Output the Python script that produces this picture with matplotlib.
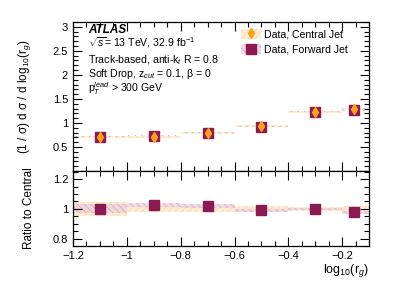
import matplotlib
matplotlib.use("Agg")
import matplotlib.pyplot as plt
from matplotlib.patches import Patch
from matplotlib.lines import Line2D
from matplotlib.ticker import MultipleLocator

plt.rcParams['font.family'] = ['Liberation Sans', 'DejaVu Sans']
plt.rcParams['mathtext.fontset'] = 'custom'
plt.rcParams['mathtext.rm'] = 'Liberation Sans'
plt.rcParams['mathtext.it'] = 'Liberation Sans:italic'
plt.rcParams['mathtext.bf'] = 'Liberation Sans:bold'
plt.rcParams['hatch.linewidth'] = 0.5

# bins in log10(r_g)
bin_edges = [-1.2, -1.0, -0.8, -0.6, -0.4, -0.2, -0.1]
bin_centers = [-1.1, -0.9, -0.7, -0.5, -0.3, -0.155]

# (1/sigma) dsigma/dlog10(rg)
central = [0.71, 0.715, 0.785, 0.935, 1.23, 1.30]
forward = [0.71, 0.733, 0.80, 0.925, 1.23, 1.27]
# relative uncertainties
central_unc = [0.045, 0.022, 0.02, 0.016, 0.014, 0.018]
forward_unc = [0.03, 0.012, 0.012, 0.01, 0.008, 0.012]

c_orange = '#FFA21A'
c_band_c = '#FFECD2'
c_hatch_c = '#FCD9A8'
c_purple = '#8B1A52'
c_band_f = '#EBD0DE'
c_hatch_f = '#CC98B4'

fig = plt.figure(figsize=(3.99, 2.86), dpi=100)
ax = fig.add_axes([0.183, 0.402, 0.742, 0.521])
axr = fig.add_axes([0.183, 0.140, 0.742, 0.262], sharex=ax)

ratio = [f / c for f, c in zip(forward, central)]

for i in range(len(central)):
    lo, hi = bin_edges[i], bin_edges[i + 1]
    w = hi - lo
    # top panel bands
    ax.add_patch(plt.Rectangle((lo, central[i] - 0.018), w, 0.036, facecolor=c_band_c,
                               edgecolor=c_hatch_c, hatch='/////', linewidth=0))
    ax.add_patch(plt.Rectangle((lo, forward[i] - 0.012), w, 0.024, facecolor='none',
                               edgecolor=c_hatch_f, hatch='\\\\\\\\\\', linewidth=0))
    # ratio panel bands
    axr.add_patch(plt.Rectangle((lo, 1 - central_unc[i]), w, 2 * central_unc[i],
                                facecolor=c_band_c, edgecolor=c_hatch_c, hatch='/////',
                                linewidth=0))
    axr.add_patch(plt.Rectangle((lo, ratio[i] - forward_unc[i]), w, 2 * forward_unc[i],
                                facecolor=c_band_f, alpha=0.75, edgecolor=c_hatch_f,
                                hatch='\\\\\\\\\\', linewidth=0))

ax.plot(bin_centers, forward, 's', color=c_purple, markersize=6.5, zorder=5)
ax.errorbar(bin_centers, central, yerr=[c * 0.04 for c in central], fmt='d',
            color=c_orange, markersize=5, elinewidth=1.2, capsize=0, zorder=6)
axr.plot(bin_centers, ratio, 's', color=c_purple, markersize=6.5, zorder=5)

ax.set_xlim(-1.2, -0.1)
ax.set_ylim(0, 3.1)
axr.set_ylim(0.75, 1.255)

for a in (ax, axr):
    a.tick_params(which='both', direction='in', top=True, right=True, labelsize=8,
                  width=0.8, colors='black')
    a.tick_params(which='major', length=6.5)
    a.tick_params(which='minor', length=3.3)
    a.xaxis.set_major_locator(MultipleLocator(0.2))
    a.xaxis.set_minor_locator(MultipleLocator(0.05))
    for s in a.spines.values():
        s.set_linewidth(0.9)

ax.yaxis.set_major_locator(MultipleLocator(0.5))
ax.yaxis.set_minor_locator(MultipleLocator(0.1))
axr.yaxis.set_major_locator(MultipleLocator(0.2))
axr.yaxis.set_minor_locator(MultipleLocator(0.05))
ax.tick_params(labelbottom=False)
axr.set_yticks([0.8, 1.0, 1.2])
axr.set_yticklabels(['0.8', '1', '1.2'])
ax.set_yticks([0.5, 1, 1.5, 2, 2.5, 3])
ax.set_yticklabels(['0.5', '1', '1.5', '2', '2.5', '3'])
axr.set_xticks([-1.2, -1.0, -0.8, -0.6, -0.4, -0.2])
axr.set_xticklabels(['\u22121.2', '\u22121', '\u22120.8', '\u22120.6', '\u22120.4', '\u22120.2'])

ax.set_ylabel('(1 / \u03c3) d \u03c3 / d log$_{10}$(r$_{g}$)', fontsize=8.5)
axr.set_ylabel('Ratio to Central', fontsize=8.5)
ax.yaxis.set_label_coords(-0.135, 0.5)
axr.yaxis.set_label_coords(-0.13, 0.5)
axr.set_xlabel('log$_{10}$(r$_{g}$)', fontsize=9, loc='right', labelpad=1)

tx = 0.05
ax.text(tx, 0.946, 'ATLAS', transform=ax.transAxes, fontsize=8.5, fontweight='bold',
        fontstyle='italic', va='center')
ax.text(tx, 0.862, '$\\sqrt{s}$= 13 TeV, 32.9 fb$^{-1}$', transform=ax.transAxes,
        fontsize=7.6, va='center')
ax.text(tx, 0.745, 'Track-based, anti-k$_{t}$ R = 0.8', transform=ax.transAxes,
        fontsize=7.6, va='center')
ax.text(tx, 0.651, 'Soft Drop, z$_{cut}$ = 0.1, \u03b2 = 0', transform=ax.transAxes,
        fontsize=7.6, va='center')
ax.text(tx, 0.553, 'p$_{T}^{lead}$ > 300 GeV', transform=ax.transAxes,
        fontsize=7.6, va='center')

h_c = (Patch(facecolor=c_band_c, edgecolor=c_hatch_c, hatch='/////', linewidth=0),
       Line2D([], [], marker='d', color=c_orange, linestyle='none', markersize=5))
h_f = (Patch(facecolor=c_band_f, alpha=0.75, edgecolor=c_hatch_f, hatch='\\\\\\\\\\',
             linewidth=0),
       Line2D([], [], marker='s', color=c_purple, linestyle='none', markersize=6.5))
ax.legend([h_c, h_f], ['Data, Central Jet', 'Data, Forward Jet'], loc='upper left',
          bbox_to_anchor=(0.545, 1.0), frameon=False, fontsize=7.6, handlelength=1.9,
          handleheight=1.1, handletextpad=0.3, labelspacing=0.45, borderaxespad=0.25)

fig.savefig('out.png', dpi=100)
